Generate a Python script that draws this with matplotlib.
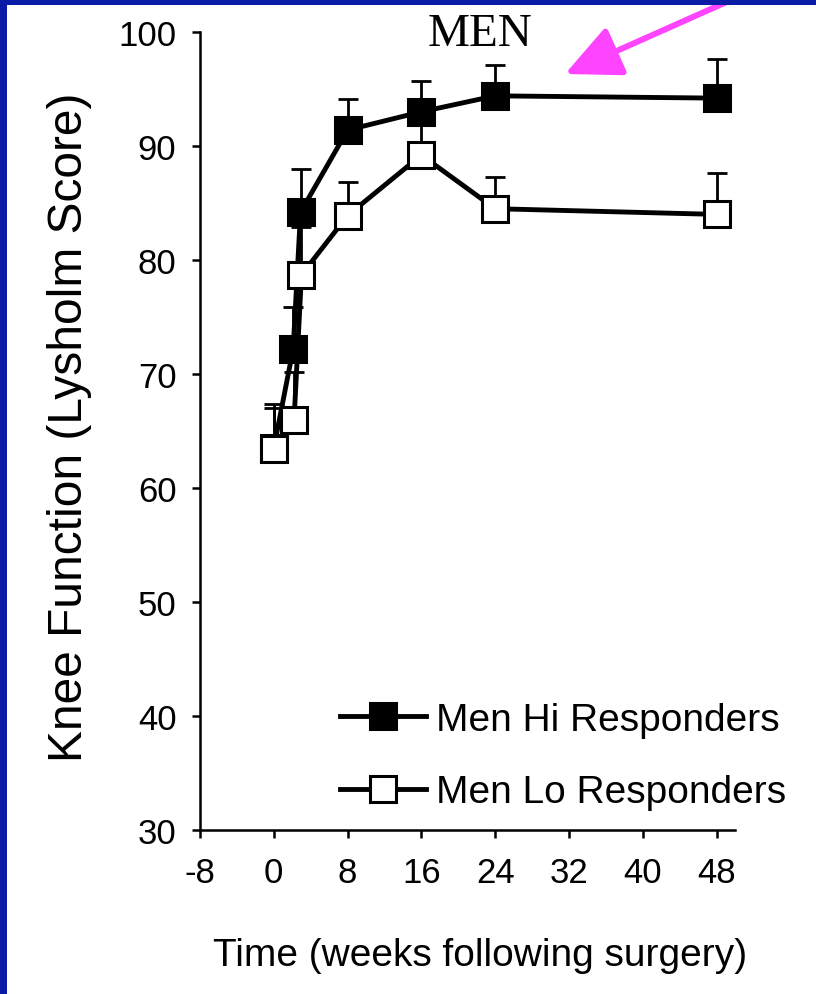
import numpy as np
import matplotlib
matplotlib.use('Agg')
import matplotlib.pyplot as plt
from matplotlib.patches import Rectangle

# values (weeks after surgery, Lysholm score, upper SD)
weeks_hi = [0, 2.1, 2.9, 8, 16, 24, 48]
score_hi = [63.5, 72.2, 84.2, 91.4, 93.0, 94.4, 94.2]
err_hi = [3.5, 3.7, 3.8, 2.7, 2.7, 2.7, 3.4]

weeks_lo = [0, 2.2, 3, 8, 16, 24, 48]
score_lo = [63.4, 66.0, 78.7, 83.9, 89.2, 84.5, 84.0]
err_lo = [4.0, 4.2, 4.2, 2.9, 3.4, 2.8, 3.6]

xticks = [-8, 0, 8, 16, 24, 32, 40, 48]
yticks = [30, 40, 50, 60, 70, 80, 90, 100]

plt.rcParams['font.family'] = ['Liberation Sans', 'DejaVu Sans']
plt.rcParams['axes.unicode_minus'] = False

fig = plt.figure(figsize=(8.16, 9.95), dpi=100, facecolor='white')
ax = fig.add_axes([200 / 816, 1 - 831 / 995, 535 / 816, 798 / 995])

# error bars (upper only), behind the lines
for w, s, e in [(weeks_hi, score_hi, err_hi), (weeks_lo, score_lo, err_lo)]:
    ax.errorbar(w, s, yerr=[np.zeros(len(e)), e], fmt='none', ecolor='black',
                elinewidth=2, capsize=7.2, capthick=2, zorder=1)

ax.plot(weeks_hi, score_hi, '-s', color='black', lw=3.5, ms=19,
        mfc='black', mec='black', mew=2.2, label='Men Hi Responders', zorder=2)
ax.plot(weeks_lo, score_lo, '-s', color='black', lw=3.5, ms=19,
        mfc='white', mec='black', mew=2.2, label='Men Lo Responders', zorder=3)

ax.set_xlim(-8, 50)
ax.set_ylim(30, 100)
ax.set_xticks(xticks)
ax.set_yticks(yticks)
ax.spines['top'].set_visible(False)
ax.spines['right'].set_visible(False)
for sp in ['left', 'bottom']:
    ax.spines[sp].set_linewidth(1.8)
ax.tick_params(axis='both', direction='out', length=6, width=1.8,
               labelsize=25)
ax.tick_params(axis='x', pad=13)
ax.tick_params(axis='y', pad=11)

ax.set_ylabel('Knee Function (Lysholm Score)', fontsize=34.5,
              verticalalignment='center')
ax.yaxis.set_label_coords(-0.243, 0.506)
ax.set_xlabel('Time (weeks following surgery)', fontsize=28,
              verticalalignment='center')
ax.xaxis.set_label_coords(0.523, -0.157)

leg = ax.legend(loc='upper left', bbox_to_anchor=(340 / 816, 1 - 703 / 995),
                bbox_transform=fig.transFigure, frameon=False, fontsize=28,
                numpoints=1, borderpad=0, borderaxespad=0, handlelength=2.2,
                handletextpad=0.26, labelspacing=0.93)

fig.text(480 / 816, 1 - 35 / 995, 'MEN', fontsize=34, ha='center',
         va='center', family='Liberation Serif')

# pink arrow pointing at the hi responders plateau
ax.annotate('', xy=(565, 920), xycoords='figure pixels',
            xytext=(740, 998), textcoords='figure pixels',
            arrowprops=dict(arrowstyle='-|>,head_length=1.7,head_width=0.8',
                            lw=4.3, color='#ff44ff', mutation_scale=20,
                            shrinkA=0, shrinkB=0))

# blue slide border on left and top
blue = '#0a1ca6'
fig.add_artist(Rectangle((0, 0), 7 / 816, 1, transform=fig.transFigure,
                         facecolor=blue, edgecolor='none', zorder=10))
fig.add_artist(Rectangle((0, 1 - 6 / 995), 1, 6 / 995, transform=fig.transFigure,
                         facecolor=blue, edgecolor='none', zorder=10))

fig.savefig('out.png', dpi=100, facecolor='white')
